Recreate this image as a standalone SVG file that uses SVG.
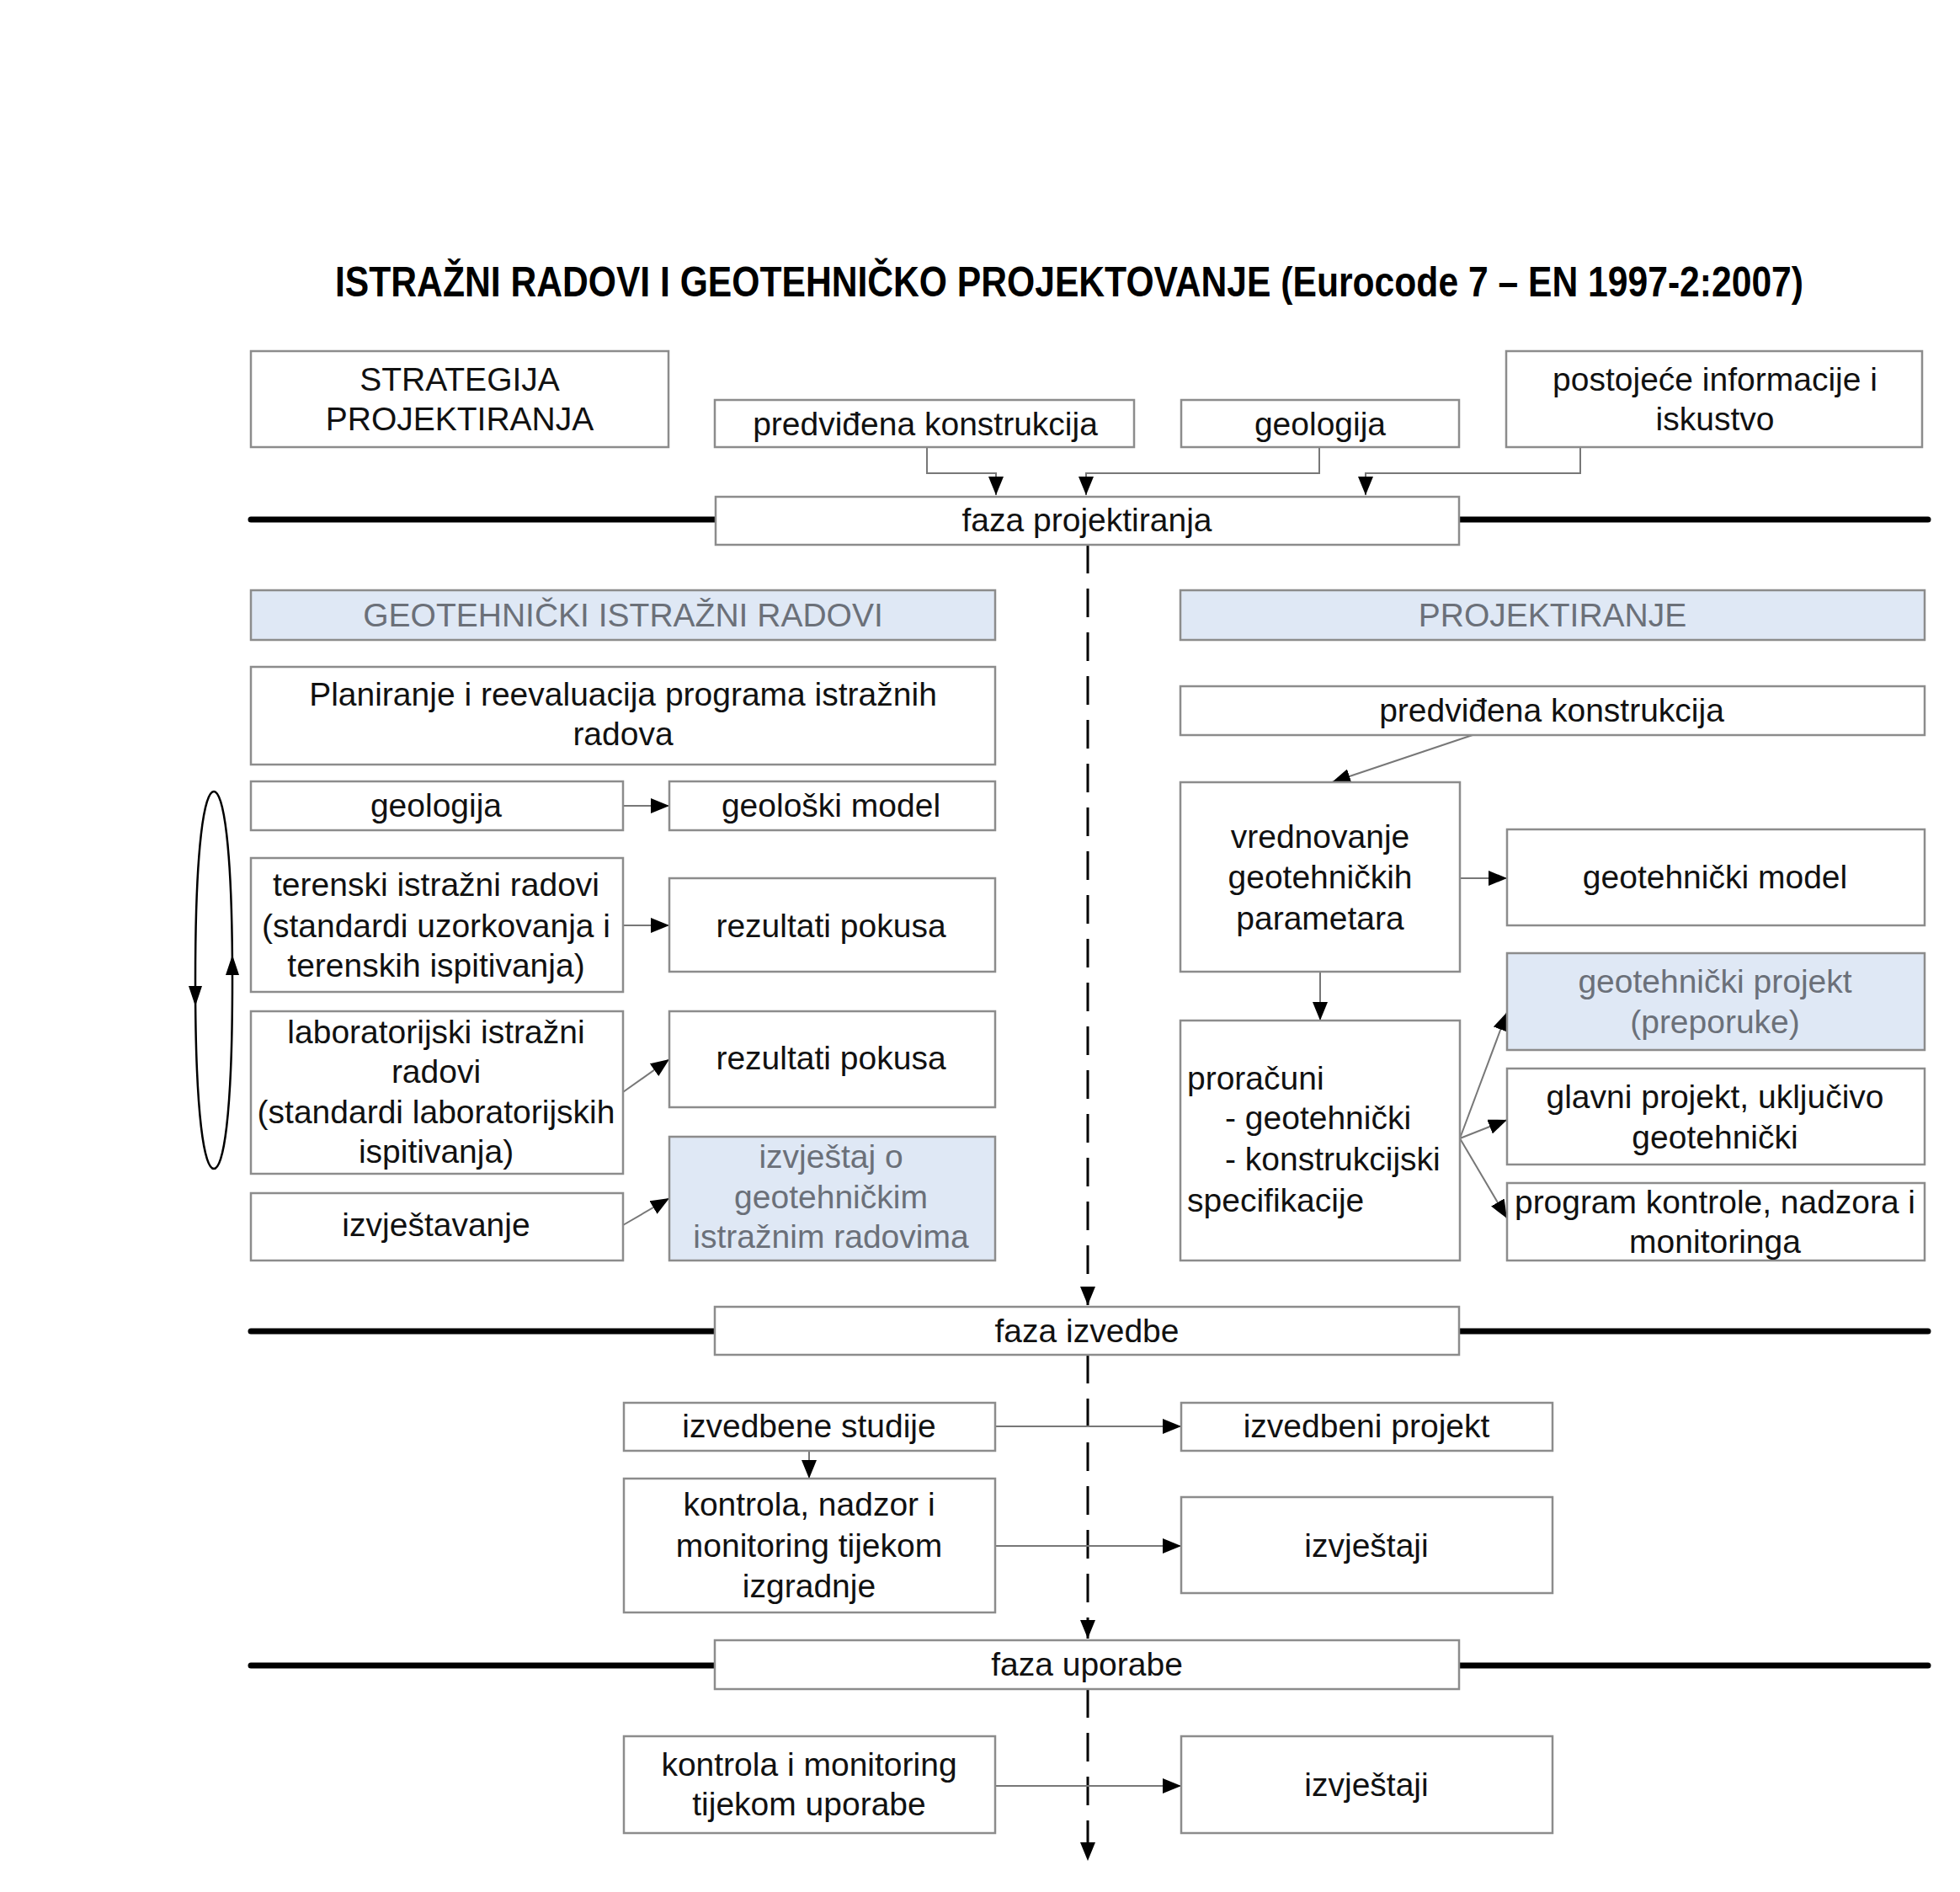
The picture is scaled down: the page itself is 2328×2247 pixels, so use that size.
<svg xmlns="http://www.w3.org/2000/svg" width="2328" height="2247" viewBox="0 0 2328 2247">
<defs>
<style>
.box{fill:#fff;stroke:#8c8c8c;stroke-width:2.5}
.blue{fill:#dfe8f5;stroke:#8c8c8c;stroke-width:2.5}
.t{font-family:"Liberation Sans",Arial,sans-serif;font-size:39px;fill:#111;text-anchor:middle}
.tl{font-family:"Liberation Sans",Arial,sans-serif;font-size:39px;fill:#111;text-anchor:start}
.g{fill:#6b7079}
.con{fill:none;stroke:#777;stroke-width:2}
.dash{fill:none;stroke:#000;stroke-width:3;stroke-dasharray:34 18}
.phase{stroke:#000;stroke-width:7;stroke-linecap:round}
.loop{fill:none;stroke:#000;stroke-width:2.5}
</style>
<marker id="ah" markerUnits="userSpaceOnUse" markerWidth="22" markerHeight="18" refX="22" refY="9" orient="auto">
<path d="M0,0 L22,9 L0,18 z" fill="#000"/>
</marker>
</defs>
<rect width="2328" height="2247" fill="#fff"/>

<text transform="translate(1270,352) scale(1,1.2)" x="0" y="0" font-family="Liberation Sans,Arial,sans-serif" font-weight="bold" font-size="42" text-anchor="middle" textLength="1744" lengthAdjust="spacingAndGlyphs" fill="#000">ISTRAŽNI RADOVI I GEOTEHNIČKO PROJEKTOVANJE (Eurocode 7 – EN 1997-2:2007)</text>

<g id="phase-lines">
<line class="phase" x1="298" y1="617" x2="850" y2="617"/>
<line class="phase" x1="1733" y1="617" x2="2290" y2="617"/>
<line class="phase" x1="298" y1="1581" x2="850" y2="1581"/>
<line class="phase" x1="1733" y1="1581" x2="2290" y2="1581"/>
<line class="phase" x1="298" y1="1978" x2="850" y2="1978"/>
<line class="phase" x1="1733" y1="1978" x2="2290" y2="1978"/>
</g>

<g id="connectors">
<path class="con" d="M1101,531 V562 H1183 V588" marker-end="url(#ah)"/>
<path class="con" d="M1567,531 V562 H1290 V588" marker-end="url(#ah)"/>
<path class="con" d="M1877,531 V562 H1622 V588" marker-end="url(#ah)"/>
<path class="dash" d="M1292,647 V1550" marker-end="url(#ah)"/>
<path class="dash" d="M1292,1609 V1946" marker-end="url(#ah)"/>
<path class="dash" d="M1292,2006 V2210" marker-end="url(#ah)"/>
<line class="con" x1="740" y1="957" x2="795" y2="957" marker-end="url(#ah)"/>
<line class="con" x1="740" y1="1099" x2="795" y2="1099" marker-end="url(#ah)"/>
<line class="con" x1="740" y1="1297" x2="795" y2="1258" marker-end="url(#ah)"/>
<line class="con" x1="740" y1="1455" x2="795" y2="1423" marker-end="url(#ah)"/>
<path class="loop" d="M232,1164 C232,1000 243,940 254,940 C265,940 276,1000 276,1164 C276,1330 265,1388 254,1388 C243,1388 232,1330 232,1164 Z"/>
<path d="M224,1171 L240,1171 L232,1195 z" fill="#000"/>
<path d="M268,1158 L284,1158 L276,1134 z" fill="#000"/>
<line class="con" x1="1749" y1="873" x2="1582" y2="929" marker-end="url(#ah)"/>
<line class="con" x1="1734" y1="1043" x2="1790" y2="1043" marker-end="url(#ah)"/>
<line class="con" x1="1568" y1="1154" x2="1568" y2="1212" marker-end="url(#ah)"/>
<line class="con" x1="1734" y1="1352" x2="1790" y2="1202" marker-end="url(#ah)"/>
<line class="con" x1="1734" y1="1352" x2="1790" y2="1330" marker-end="url(#ah)"/>
<line class="con" x1="1734" y1="1352" x2="1790" y2="1447" marker-end="url(#ah)"/>
<line class="con" x1="1182" y1="1694" x2="1403" y2="1694" marker-end="url(#ah)"/>
<line class="con" x1="961" y1="1723" x2="961" y2="1756" marker-end="url(#ah)"/>
<line class="con" x1="1182" y1="1836" x2="1403" y2="1836" marker-end="url(#ah)"/>
<line class="con" x1="1182" y1="2121" x2="1403" y2="2121" marker-end="url(#ah)"/>
</g>

<g id="strategija"><rect class="box" x="298" y="417" width="496" height="114"/>
<text class="t" x="546" y="464">STRATEGIJA</text><text class="t" x="546" y="511">PROJEKTIRANJA</text></g>
<g id="predvidjena-top"><rect class="box" x="849" y="475" width="498" height="56"/>
<text class="t" x="1099" y="517">predviđena konstrukcija</text></g>
<g id="geologija-top"><rect class="box" x="1403" y="475" width="330" height="56"/>
<text class="t" x="1568" y="517">geologija</text></g>
<g id="postojece"><rect class="box" x="1789" y="417" width="494" height="114"/>
<text class="t" x="2037" y="464">postojeće informacije i</text><text class="t" x="2037" y="511">iskustvo</text></g>

<g id="faza-projektiranja"><rect class="box" x="850" y="590" width="883" height="57"/>
<text class="t" x="1291" y="631">faza projektiranja</text></g>

<g id="geo-istrazni"><rect class="blue" x="298" y="701" width="884" height="59"/>
<text class="t g" x="740" y="744">GEOTEHNIČKI ISTRAŽNI RADOVI</text></g>
<g id="projektiranje"><rect class="blue" x="1402" y="701" width="884" height="59"/>
<text class="t g" x="1844" y="744">PROJEKTIRANJE</text></g>

<g id="planiranje"><rect class="box" x="298" y="792" width="884" height="116"/>
<text class="t" x="740" y="838">Planiranje i reevaluacija programa istražnih</text><text class="t" x="740" y="885">radova</text></g>
<g id="geologija-left"><rect class="box" x="298" y="928" width="442" height="58"/>
<text class="t" x="518" y="970">geologija</text></g>
<g id="geoloski-model"><rect class="box" x="795" y="928" width="387" height="58"/>
<text class="t" x="987" y="970">geološki model</text></g>
<g id="terenski"><rect class="box" x="298" y="1019" width="442" height="159"/>
<text class="t" x="518" y="1064">terenski istražni radovi</text><text class="t" x="518" y="1113">(standardi uzorkovanja i</text><text class="t" x="518" y="1160">terenskih ispitivanja)</text></g>
<g id="rezultati-1"><rect class="box" x="795" y="1043" width="387" height="111"/>
<text class="t" x="987" y="1113">rezultati pokusa</text></g>
<g id="laboratorijski"><rect class="box" x="298" y="1201" width="442" height="193"/>
<text class="t" x="518" y="1239">laboratorijski istražni</text><text class="t" x="518" y="1286">radovi</text><text class="t" x="518" y="1334">(standardi laboratorijskih</text><text class="t" x="518" y="1381">ispitivanja)</text></g>
<g id="rezultati-2"><rect class="box" x="795" y="1201" width="387" height="114"/>
<text class="t" x="987" y="1270">rezultati pokusa</text></g>
<g id="izvjestavanje"><rect class="box" x="298" y="1417" width="442" height="80"/>
<text class="t" x="518" y="1468">izvještavanje</text></g>
<g id="izvjestaj-o"><rect class="blue" x="795" y="1350" width="387" height="147"/>
<text class="t g" x="987" y="1387">izvještaj o</text><text class="t g" x="987" y="1435">geotehničkim</text><text class="t g" x="987" y="1482">istražnim radovima</text></g>

<g id="predvidjena-right"><rect class="box" x="1402" y="815" width="884" height="58"/>
<text class="t" x="1843" y="857">predviđena konstrukcija</text></g>
<g id="vrednovanje"><rect class="box" x="1402" y="929" width="332" height="225"/>
<text class="t" x="1568" y="1007">vrednovanje</text><text class="t" x="1568" y="1055">geotehničkih</text><text class="t" x="1568" y="1104">parametara</text></g>
<g id="geotehnicki-model"><rect class="box" x="1790" y="985" width="496" height="114"/>
<text class="t" x="2037" y="1055">geotehnički model</text></g>
<g id="geotehnicki-projekt"><rect class="blue" x="1790" y="1132" width="496" height="115"/>
<text class="t g" x="2037" y="1179">geotehnički projekt</text><text class="t g" x="2037" y="1227">(preporuke)</text></g>
<g id="glavni-projekt"><rect class="box" x="1790" y="1269" width="496" height="114"/>
<text class="t" x="2037" y="1316">glavni projekt, uključivo</text><text class="t" x="2037" y="1364">geotehnički</text></g>
<g id="program-kontrole"><rect class="box" x="1790" y="1405" width="496" height="92"/>
<text class="t" x="2037" y="1441" textLength="476" lengthAdjust="spacingAndGlyphs">program kontrole, nadzora i</text><text class="t" x="2037" y="1488">monitoringa</text></g>
<g id="proracuni"><rect class="box" x="1402" y="1212" width="332" height="285"/>
<text class="tl" x="1410" y="1294">proračuni</text><text class="tl" x="1455" y="1341">- geotehnički</text><text class="tl" x="1455" y="1390">- konstrukcijski</text><text class="tl" x="1410" y="1439">specifikacije</text></g>

<g id="faza-izvedbe"><rect class="box" x="849" y="1552" width="884" height="57"/>
<text class="t" x="1291" y="1594">faza izvedbe</text></g>
<g id="izvedbene-studije"><rect class="box" x="741" y="1666" width="441" height="57"/>
<text class="t" x="961" y="1707">izvedbene studije</text></g>
<g id="izvedbeni-projekt"><rect class="box" x="1403" y="1666" width="441" height="57"/>
<text class="t" x="1623" y="1707">izvedbeni projekt</text></g>
<g id="kontrola-izgradnje"><rect class="box" x="741" y="1756" width="441" height="159"/>
<text class="t" x="961" y="1800">kontrola, nadzor i</text><text class="t" x="961" y="1849">monitoring tijekom</text><text class="t" x="961" y="1897">izgradnje</text></g>
<g id="izvjestaji-1"><rect class="box" x="1403" y="1778" width="441" height="114"/>
<text class="t" x="1623" y="1849">izvještaji</text></g>

<g id="faza-uporabe"><rect class="box" x="849" y="1948" width="884" height="58"/>
<text class="t" x="1291" y="1990">faza uporabe</text></g>
<g id="kontrola-uporabe"><rect class="box" x="741" y="2062" width="441" height="115"/>
<text class="t" x="961" y="2109">kontrola i monitoring</text><text class="t" x="961" y="2156">tijekom uporabe</text></g>
<g id="izvjestaji-2"><rect class="box" x="1403" y="2062" width="441" height="115"/>
<text class="t" x="1623" y="2133">izvještaji</text></g>
</svg>
